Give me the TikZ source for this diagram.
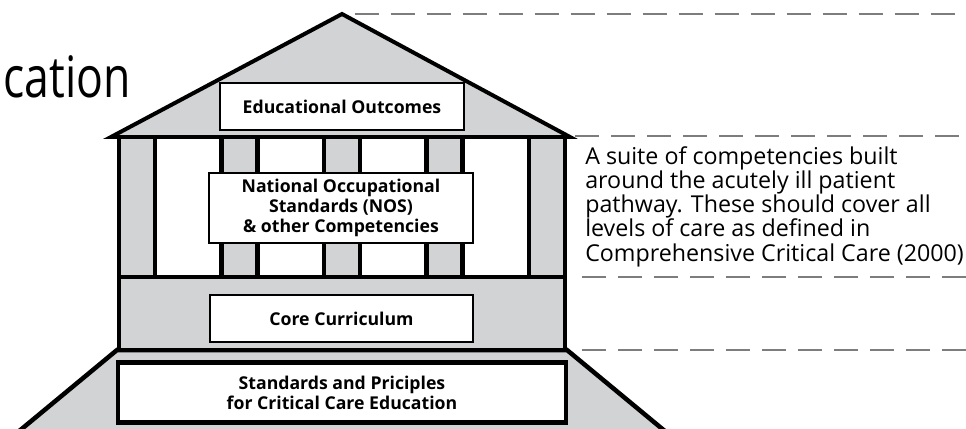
\documentclass[tikz,border=0pt]{standalone}
\usepackage{fontspec}
\setmainfont{Open Sans}
\newfontfamily\titlefont{Open Sans}[FakeStretch=0.78]
\usetikzlibrary{positioning}

\definecolor{wallgray}{RGB}{209,211,212}
\definecolor{guidegray}{RGB}{125,125,125}

\tikzset{
  wall/.style={draw=black, line width=3.4pt},
  labelbox/.style={draw=black, line width=0.9pt, fill=white, align=center,
    inner sep=0pt, font=\bfseries\fontsize{13.3}{15}\selectfont},
  guide/.style={draw=guidegray, line width=1pt, dash pattern=on 18bp off 9bp},
}

\begin{document}
\begin{tikzpicture}[x=0.75bp, y=-0.75bp]
\useasboundingbox (0,0) rectangle (966,429);
\clip (0,0) rectangle (966,429);

% base
\fill[wallgray] (117,350) -- (18,432) -- (666,432) -- (567,350) -- cycle;
\draw[wall] (18,432) -- (117,350) -- (567,350) -- (666,432);

% core layer
\draw[wall, fill=wallgray] (119,277) rectangle (565,350);

% columns
\fill[white] (119,137) rectangle (565,277);
\foreach \x in {119,221.5,324,426.5,529}
  \fill[wallgray] (\x,137) rectangle (\x+36,277);
\foreach \x in {155,221.5,257.5,324,360,426.5,462.5,529}
  \draw[wall] (\x,137) -- (\x,277);
\draw[wall] (119,137) rectangle (565,277);

% roof
\draw[line width=3pt, line join=miter, fill=wallgray]
  (111,137) -- (342,14) -- (570,137) -- cycle;

\node[labelbox, minimum width=183bp, minimum height=35.25bp] (outcomes) at (342,106.5) {Educational Outcomes};
\node[labelbox, minimum width=198bp, minimum height=52.5bp] (nos) at (341,208) {National Occupational\\Standards (NOS)\\\& other Competencies};
\node[labelbox, minimum width=197.25bp, minimum height=35.25bp] (core) at (341.5,318.5) {Core Curriculum};
\node[labelbox, line width=3.4pt, minimum width=336bp, minimum height=45bp] (standards) at (342,392.5) {Standards and Priciples\\for Critical Care Education};

\node[anchor=base east, inner sep=0pt, font=\titlefont\fontsize{43}{50}\selectfont] (title) at (131,97) {cation};

\node[anchor=base west, inner sep=0pt, align=left, font=\fontsize{17.5}{18.2}\selectfont] (note) at (585,261)
  {A suite of competencies built\\around the acutely ill patient\\pathway. These should cover all\\levels of care as defined in\\Comprehensive Critical Care (2000)};

% guide lines
\coordinate (g1) at (355,14);
\coordinate (g2) at (575,136);
\coordinate (g3) at (582,277);
\coordinate (g4) at (582,350);
\foreach \g in {g1,g2,g3,g4}
  \draw[guide] (\g) -- (\g -| 966,0);
\end{tikzpicture}
\end{document}
